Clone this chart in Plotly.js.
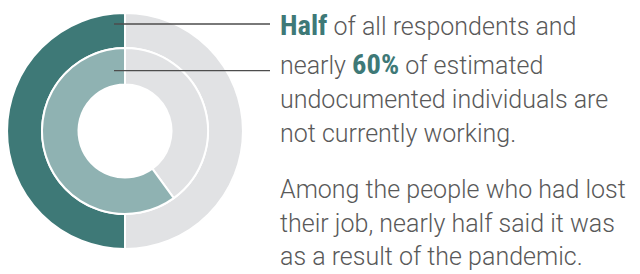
<!DOCTYPE html>
<html><head><meta charset="utf-8">
<script src="https://cdn.plot.ly/plotly-3.0.1.min.js"></script>
<style>html,body{margin:0;padding:0;background:#fff;}#chart{width:640px;height:274px;}</style>
</head><body><div id="chart"></div>
<script>
// ---- data ----
const sliceLabels = ['Not currently working', 'Other'];
const outerValues = [50, 50];   // all respondents
const innerValues = [60, 40];   // estimated undocumented individuals
const highlightWords = ['Half', '60%'];
const para1Lines = ['{0} of all respondents and', 'nearly {1} of estimated', 'undocumented individuals are', 'not currently working.'];
const para2Lines = ['Among the people who had lost', 'their job, nearly half said it was', 'as a result of the pandemic.'];

// ---- style ----
const W = 640, H = 274;
const teal = '#3e7977', teal2 = '#8fb2b2', grey = '#e1e2e4', txt = '#595959';
const cx = 125, cy = 131;           // centre in px from top-left
const rOuter = 118, rMid = 83, rHole = 46.5;

function dom(r) {
  return {x: [(cx - r) / W, (cx + r) / W], y: [(H - cy - r) / H, (H - cy + r) / H]};
}
const common = {type: 'pie', sort: false, direction: 'clockwise', rotation: 0,
  textinfo: 'none', hoverinfo: 'none', showlegend: false};

const data = [
  Object.assign({}, common, {values: outerValues.slice().reverse(), labels: sliceLabels.slice().reverse(),
    domain: dom(rOuter), hole: rMid / rOuter,
    marker: {colors: [grey, teal], line: {color: '#fff', width: 2}}}),
  Object.assign({}, common, {values: innerValues.slice().reverse(), labels: sliceLabels.slice().reverse(),
    domain: dom(rMid), hole: rHole / rMid,
    marker: {colors: [grey, teal2], line: {color: '#fff', width: 2}}})
];

const hl = w => `<span style="font-family:'Roboto Condensed','Liberation Sans Narrow','Arial Narrow',Roboto;font-weight:bold;font-size:28.5px;color:${teal}">${w}</span>`;
const fmt = s => s.replace('{0}', hl(highlightWords[0])).replace('{1}', hl(highlightWords[1]));

const textX = 279;
const baselines1 = [34, 73, 108, 142];
const baselines2 = [198, 232, 265];
const annotations = [];
para1Lines.forEach((l, i) => annotations.push({text: fmt(l), y: baselines1[i]}));
para2Lines.forEach((l, i) => annotations.push({text: l, y: baselines2[i]}));
annotations.forEach(a => {
  a.xref = 'paper'; a.yref = 'paper'; a.x = textX / W; a.xanchor = 'left';
  a.y = 1 - (a.y - 8.5) / H; a.yanchor = 'middle'; a.showarrow = false;
  a.align = 'left'; a.borderpad = 0;
  a.font = {family: 'Roboto, "Open Sans", sans-serif', size: 25, weight: 300, color: txt};
});

const lineY = [24, 70.7];
const shapes = lineY.map(y => ({type: 'line', xref: 'paper', yref: 'paper',
  x0: 114 / W, x1: 270 / W, y0: 1 - y / H, y1: 1 - y / H, line: {color: '#4d4d4d', width: 1.3}}));

Plotly.newPlot('chart', data, {
  width: W, height: H, margin: {l: 0, r: 0, t: 0, b: 0},
  paper_bgcolor: '#fff', plot_bgcolor: '#fff',
  annotations: annotations, shapes: shapes
}, {staticPlot: true, displayModeBar: false});
</script></body></html>
